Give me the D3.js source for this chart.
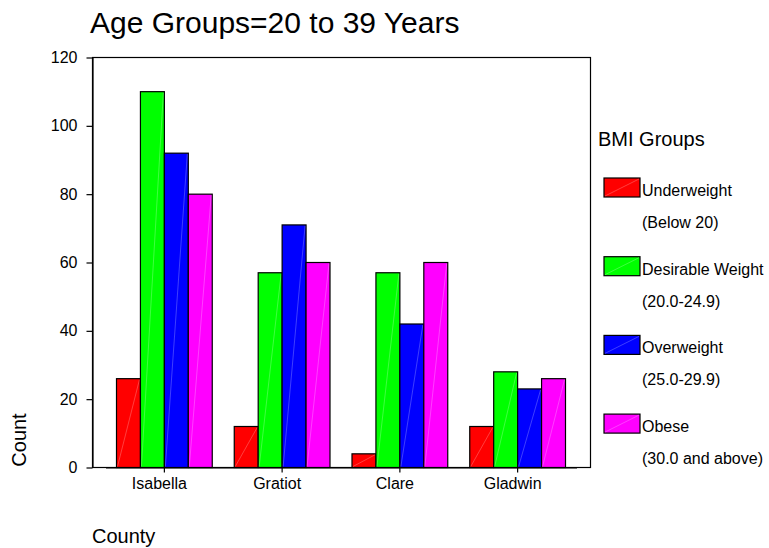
<!DOCTYPE html>
<html>
<head>
<meta charset="utf-8">
<script src="https://cdn.jsdelivr.net/npm/d3@7"></script>
<style>
  body { margin: 0; background: #fff; }
  svg { display: block; font-family: Arial, "Liberation Sans", sans-serif; }
</style>
</head>
<body>
<div id="chart"></div>
<script>
// counties on the x axis
var counties = ["Isabella", "Gratiot", "Clare", "Gladwin"];
// BMI groups (legend), two lines each
var groups = ["Underweight", "Desirable Weight", "Overweight", "Obese"];
var groupRanges = ["(Below 20)", "(20.0-24.9)", "(25.0-29.9)", "(30.0 and above)"];
var groupColors = ["#ff0000", "#00ff00", "#0000ff", "#ff00ff"];
// counts per county, one array per group
var underweight = [26, 12, 4, 12];
var desirable   = [110, 57, 57, 28];
var overweight  = [92, 71, 42, 23];
var obese       = [80, 60, 60, 26];
var yTicks = [0, 20, 40, 60, 80, 100, 120];

var series = [underweight, desirable, overweight, obese];

var width = 769, height = 548;
var plot = {left: 92.5, right: 590.5, top: 57.5, bottom: 467.5};

var svg = d3.select("#chart").append("svg")
    .attr("width", width)
    .attr("height", height);

// title
svg.append("text")
    .attr("x", 90)
    .attr("y", 33)
    .style("font-size", "30px")
    .text("Age Groups=20 to 39 Years");

var y = d3.scaleLinear().domain([0, 120]).range([plot.bottom, plot.top]);
var x0 = d3.scaleBand().domain(counties).range([105.5, 576.5]);
var x1 = d3.scaleBand().domain(groups).range([11, x0.bandwidth() - 11]);

// frame (top + right)
svg.append("rect")
    .attr("x", plot.left)
    .attr("y", plot.top)
    .attr("width", plot.right - plot.left)
    .attr("height", plot.bottom - plot.top)
    .attr("fill", "none")
    .attr("stroke", "#000")
    .attr("stroke-width", 1.2);

// bars
var rows = [];
counties.forEach(function (c, i) {
    groups.forEach(function (g, j) {
        rows.push({county: c, group: g, gi: j, value: series[j][i]});
    });
});

var bar = svg.append("g").selectAll("g")
    .data(rows)
    .enter().append("g")
    .attr("transform", function (d) {
        return "translate(" + (x0(d.county) + x1(d.group)) + ",0)";
    });

bar.append("rect")
    .attr("x", 0)
    .attr("y", function (d) { return y(d.value); })
    .attr("width", x1.bandwidth())
    .attr("height", function (d) { return y(0) - y(d.value); })
    .attr("fill", function (d) { return groupColors[d.gi]; })
    .attr("stroke", "#000")
    .attr("stroke-width", 1.2);

// faint diagonal streak seen in the original fills
bar.append("line")
    .attr("x1", 1)
    .attr("y1", y(0) - 1)
    .attr("x2", x1.bandwidth() - 1)
    .attr("y2", function (d) { return y(d.value) + 1; })
    .attr("stroke", "#fff")
    .attr("stroke-opacity", 0.35)
    .attr("stroke-width", 0.7);

// y axis
var yAxis = svg.append("g")
    .attr("transform", "translate(" + plot.left + ",0)")
    .call(d3.axisLeft(y).tickValues(yTicks).tickSize(6).tickSizeOuter(0).tickPadding(9));
yAxis.select(".domain").attr("stroke-width", 1.2);
yAxis.selectAll(".tick line").attr("stroke-width", 1.2);
yAxis.selectAll("text").style("font-size", "16px").attr("fill", "#000");

// x axis (labels sit a little left of their ticks in the original)
var xAxis = svg.append("g")
    .attr("transform", "translate(0," + plot.bottom + ")")
    .call(d3.axisBottom(x0).tickSize(5).tickSizeOuter(0).tickPadding(5));
xAxis.select(".domain").attr("stroke-width", 1.2);
xAxis.selectAll(".tick line").attr("stroke-width", 1.2);
xAxis.selectAll("text")
    .attr("dx", -5)
    .style("font-size", "16px")
    .attr("fill", "#000");

// axis titles
svg.append("text")
    .attr("transform", "translate(26,440) rotate(-90)")
    .attr("text-anchor", "middle")
    .style("font-size", "20px")
    .text("Count");

svg.append("text")
    .attr("x", 92)
    .attr("y", 543)
    .style("font-size", "20px")
    .text("County");

// legend
var legend = svg.append("g");
legend.append("text")
    .attr("x", 598)
    .attr("y", 146)
    .style("font-size", "20px")
    .text("BMI Groups");

var item = legend.selectAll(".item")
    .data(groups)
    .enter().append("g")
    .attr("class", "item")
    .attr("transform", function (d, i) { return "translate(604," + (178 + i * 78.7) + ")"; });

item.append("rect")
    .attr("width", 36)
    .attr("height", 19)
    .attr("fill", function (d, i) { return groupColors[i]; })
    .attr("stroke", "#000")
    .attr("stroke-width", 1.2);

item.append("line")
    .attr("x1", 1).attr("y1", 18)
    .attr("x2", 35).attr("y2", 1)
    .attr("stroke", "#fff")
    .attr("stroke-opacity", 0.35)
    .attr("stroke-width", 0.7);

item.append("text")
    .attr("x", 38)
    .attr("y", 18)
    .style("font-size", "16px")
    .text(function (d) { return d; });

item.append("text")
    .attr("x", 38)
    .attr("y", 50)
    .style("font-size", "16px")
    .text(function (d, i) { return groupRanges[i]; });
</script>
</body>
</html>
